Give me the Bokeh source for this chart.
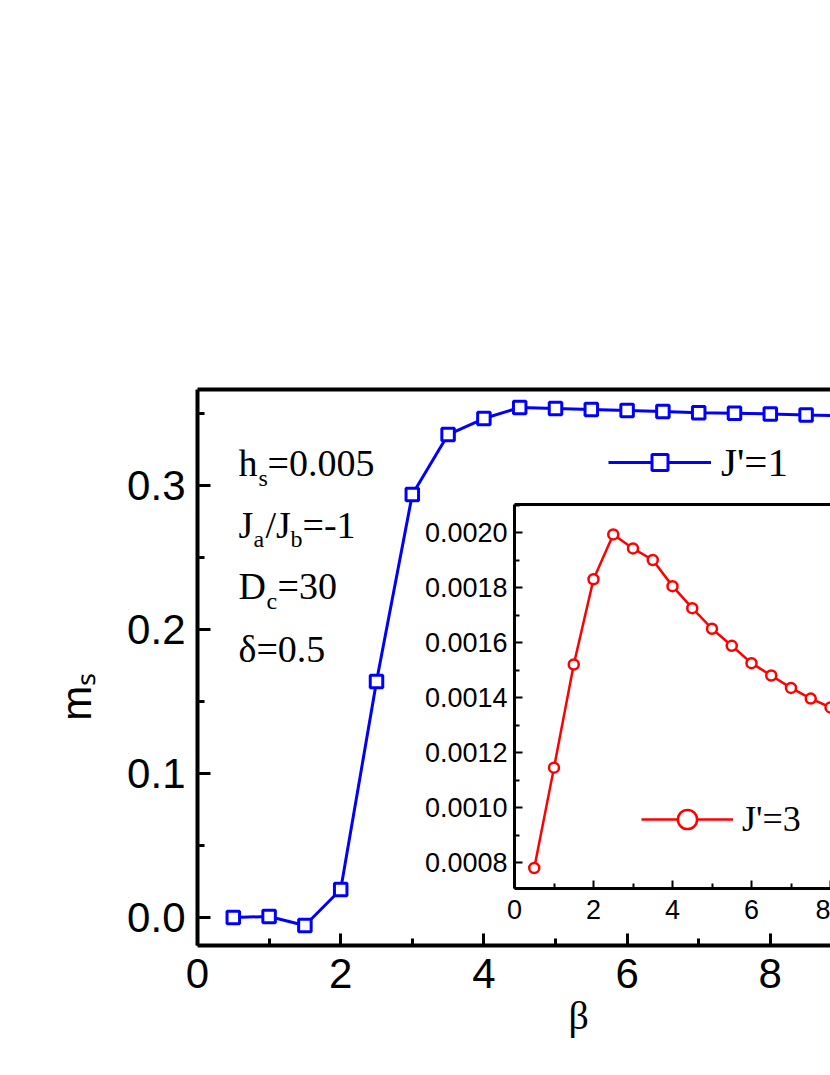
from bokeh.plotting import figure
from bokeh.models import (Range1d, FixedTicker, PrintfTickFormatter, LinearAxis,
                          Label, Legend, LegendItem, ColumnDataSource, Title)
from bokeh.embed import file_html
from bokeh.resources import INLINE

# ---------------- data ----------------
beta_main = [0.5, 1.0, 1.5, 2.0, 2.5, 3.0, 3.5, 4.0, 4.5, 5.0, 5.5, 6.0, 6.5, 7.0, 7.5, 8.0, 8.5, 9.0]
ms_main = [0.0, 0.0007, -0.0056, 0.0194, 0.1639, 0.2938, 0.3354, 0.3465, 0.3542, 0.3535,
           0.3528, 0.3520, 0.3514, 0.3505, 0.3502, 0.3497, 0.3490, 0.3485]

beta_inset = [0.5, 1.0, 1.5, 2.0, 2.5, 3.0, 3.5, 4.0, 4.5, 5.0, 5.5, 6.0, 6.5, 7.0, 7.5, 8.0]
ms_inset = [0.00078, 0.001145, 0.00152, 0.00183, 0.001993, 0.001942, 0.0019, 0.001805,
            0.001725, 0.00165, 0.001588, 0.001525, 0.00148, 0.001435, 0.001396, 0.001364]

main_xticks = [0, 2, 4, 6, 8]
main_xminor = [1, 3, 5, 7]
main_yticks = [0.0, 0.1, 0.2, 0.3]
main_yminor = [0.05, 0.15, 0.25, 0.35]
inset_xticks = [0, 2, 4, 6, 8]
inset_xminor = [1, 3, 5, 7]
inset_yticks = [0.0008, 0.0010, 0.0012, 0.0014, 0.0016, 0.0018, 0.0020]
inset_yminor = [0.0009, 0.0011, 0.0013, 0.0015, 0.0017, 0.0019, 0.0021]

BLUE = "#0000FF"
RED = "#FF0000"
SANS = "Liberation Sans"
SERIF = "Liberation Serif"

# ---------------- geometry (page pixels) ----------------
FL, FT, FR, FB = 197.0, 389.0, 830.0, 945.0   # main frame edges
FX0, FY0 = 197.0, 917.0                       # page px of beta=0 and m=0
SX, SY = 71.6, 1440.0                         # px per unit (main)
IL, IT, IB = 514.0, 504.0, 888.0              # inset box edges
IX0, IY0 = 514.0, 862.0                       # page px of inset beta=0 and m=0.0008
ISX, ISY = 39.5, 275000.0                     # px per unit (inset)

x_end = (FR - FX0) / SX
y_bot = (FY0 - FB) / SY
y_top = (FY0 - FT) / SY

p = figure(width=830, height=1075, x_range=Range1d(0, x_end), y_range=Range1d(y_bot, y_top),
           output_backend="svg", toolbar_location=None,
           min_border_left=int(FL), min_border_right=0, min_border_top=int(FT),
           min_border_bottom=int(1075 - FB))
p.outline_line_color = None
p.xgrid.visible = False
p.ygrid.visible = False
p.background_fill_color = "white"

# inset coordinate system spread over the whole main frame
p.extra_x_ranges = {"inset": Range1d((FL - IX0) / ISX, (FR - IX0) / ISX)}
p.extra_y_ranges = {"inset": Range1d(0.0008 - (FB - IY0) / ISY, 0.0008 + (IY0 - FT) / ISY)}
ix_end = (FR - IX0) / ISX
iy_bot = 0.0008 - (IB - IY0) / ISY
iy_top = 0.0008 + (IY0 - IT) / ISY


def style_axis(ax, lw, tin, tmin, tw, fs, standoff):
    ax.axis_line_width = lw
    ax.axis_line_color = "black"
    ax.major_tick_in = tin
    ax.major_tick_out = 0
    ax.minor_tick_in = tmin
    ax.minor_tick_out = 0
    ax.major_tick_line_width = tw
    ax.minor_tick_line_width = tw
    ax.major_tick_line_color = "black"
    ax.minor_tick_line_color = "black"
    ax.major_label_text_font = SANS
    ax.major_label_text_font_size = fs
    ax.major_label_text_color = "black"
    ax.major_label_standoff = standoff


def bare_axis(**kw):
    return LinearAxis(ticker=FixedTicker(ticks=[]), major_label_text_font_size="0px",
                      major_tick_line_color=None, minor_tick_line_color=None,
                      major_label_standoff=0, **kw)


xa = p.xaxis[0]
xa.ticker = FixedTicker(ticks=main_xticks, minor_ticks=main_xminor)
style_axis(xa, 4, 12, 7, 3, "42px", 13)
ya = p.yaxis[0]
ya.ticker = FixedTicker(ticks=main_yticks, minor_ticks=main_yminor)
ya.formatter = PrintfTickFormatter(format="%.1f")
style_axis(ya, 4, 13, 7, 3, "42px", 12)

p.add_layout(bare_axis(axis_line_width=4), "above")

# axis titles, placed along the axes as in the original
t_beta = Title(text="β", align="left", offset=568 - FL, standoff=0,
               text_font=SERIF, text_font_size="40px", text_font_style="normal",
               text_color="black")
p.add_layout(t_beta, "below")
# trailing no-break spaces push the centred title down to where the original has it
t_m = Title(text="mₛ" + "\u00a0" * 5, align="center", standoff=50,
            text_font=SANS, text_font_size="42px", text_font_style="normal",
            text_color="black")
p.add_layout(t_m, "left")

# main series
src_main = ColumnDataSource(dict(beta=beta_main, ms=ms_main))
l1 = p.line("beta", "ms", source=src_main, line_color=BLUE, line_width=3)
s1 = p.scatter("beta", "ms", source=src_main, marker="square", size=12.5,
               line_color=BLUE, line_width=3, fill_color="white")

leg1 = Legend(items=[LegendItem(label="J'=1", renderers=[l1, s1])],
              location=(608 - FL, FB - 486),
              padding=0, margin=0, spacing=0, border_line_color=None, background_fill_alpha=0,
              glyph_width=103, glyph_height=40, label_height=40, label_standoff=10,
              label_text_font=SERIF, label_text_font_size="41px", label_text_color="black")
p.add_layout(leg1)


def bx(px):
    return (px - FX0) / SX


def my(py):
    return (FY0 - py) / SY


def lab(text, px, py, size, font=SERIF):
    p.add_layout(Label(x=bx(px), y=my(py), text=text, text_font=font,
                       text_font_size=size, text_color="black",
                       text_baseline="alphabetic", text_align="left"))


BIG, SUB = "38px", "24px"
lab("h", 238, 462, BIG)
lab("s", 258, 477, SUB)
lab("=0.005", 267, 462, BIG)
lab("J", 238, 524, BIG)
lab("a", 253, 538, SUB)
lab("/J", 265, 524, BIG)
lab("b", 290, 538, SUB)
lab("=-1", 302, 524, BIG)
lab("D", 238, 585, BIG)
lab("c", 266, 600, SUB)
lab("=30", 277, 585, BIG)
lab("δ=0.5", 238, 648, BIG)

# ---------------- inset (drawn on the extra ranges) ----------------
iya = LinearAxis(x_range_name="inset", y_range_name="inset", fixed_location=0,
                 bounds=(iy_bot, iy_top),
                 ticker=FixedTicker(ticks=inset_yticks, minor_ticks=inset_yminor),
                 formatter=PrintfTickFormatter(format="%.4f"))
style_axis(iya, 3, 8, 5, 2, "27px", 7)
p.add_layout(iya, "left")

ixa = LinearAxis(x_range_name="inset", y_range_name="inset", fixed_location=iy_bot,
                 bounds=(0, ix_end),
                 ticker=FixedTicker(ticks=inset_xticks, minor_ticks=inset_xminor))
style_axis(ixa, 3, 8, 5, 2, "27px", 11)
p.add_layout(ixa, "below")

itop = bare_axis(x_range_name="inset", y_range_name="inset", fixed_location=iy_top,
                 bounds=(0, ix_end), axis_line_width=3)
p.add_layout(itop, "below")

src_in = ColumnDataSource(dict(beta=beta_inset, ms=ms_inset))
rl = p.line("beta", "ms", source=src_in, line_color=RED, line_width=2.5,
            x_range_name="inset", y_range_name="inset")
rc = p.scatter("beta", "ms", source=src_in, marker="circle", size=10,
               line_color=RED, line_width=2.5, fill_color="white",
               x_range_name="inset", y_range_name="inset")

leg2 = Legend(items=[LegendItem(label="J'=3", renderers=[rl, rc])],
              location=(641 - FL, FB - 843),
              padding=0, margin=0, spacing=0, border_line_color=None, background_fill_alpha=0,
              glyph_width=92, glyph_height=48, label_height=48, label_standoff=9,
              label_text_font=SERIF, label_text_font_size="36px", label_text_color="black")
p.add_layout(leg2)

open("out.html", "w").write(file_html(p, INLINE))
